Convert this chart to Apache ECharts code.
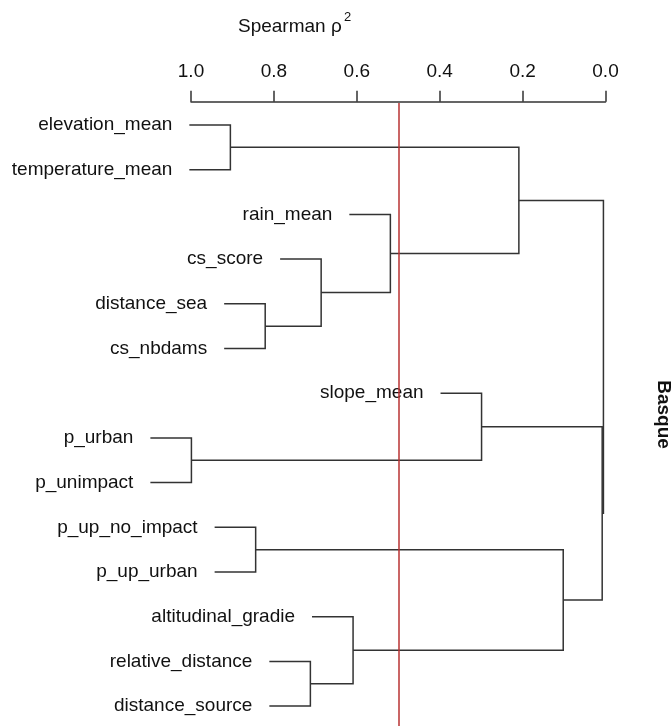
<!DOCTYPE html>
<html>
<head>
<meta charset="utf-8">
<script src="https://cdn.jsdelivr.net/npm/echarts@6/dist/echarts.min.js"></script>
<style>
html,body{margin:0;padding:0;background:#fff;}
#chart{width:671px;height:726px;}
</style>
</head>
<body>
<div id="chart"></div>
<script>
// Leaves in plotted order (top to bottom)
var leaves = ['elevation_mean','temperature_mean','rain_mean','cs_score','distance_sea','cs_nbdams',
  'slope_mean','p_urban','p_unimpact','p_up_no_impact','p_up_urban','altitudinal_gradie',
  'relative_distance','distance_source'];
// hclust-style merge matrix: negative = leaf (1-based), positive = earlier merge (1-based)
var mergeLeft  = [-8, -1, -10, -5, -13, -4, -12, -3, -7, 2, 3, 9, 10];
var mergeRight = [-9, -2, -11, -6, -14,  4,   5,  6,  1, 8, 7, 11, 12];
// Spearman rho^2 similarity at each merge
var mergeHeight = [0.999, 0.905, 0.844, 0.821, 0.712, 0.686, 0.609, 0.519, 0.299, 0.209, 0.102, 0.008, 0.005];
var hang = 0.099;
var cutValue = 0.5;
var tickValues = [0, 0.2, 0.4, 0.6, 0.8, 1.0];

var nodeY = [];
var polylines = [];
var leafStarts = [];
function childPos(c, h) {
  if (c < 0) {
    var i = -c - 1;
    leafStarts.push([h + hang, i, leaves[i]]);
    return {x: h + hang, y: i};
  }
  return {x: mergeHeight[c - 1], y: nodeY[c - 1]};
}
for (var k = 0; k < mergeHeight.length; k++) {
  var h = mergeHeight[k];
  var a = childPos(mergeLeft[k], h);
  var b = childPos(mergeRight[k], h);
  nodeY[k] = (a.y + b.y) / 2;
  polylines.push({coords: [[a.x, a.y], [h, a.y], [h, b.y], [b.x, b.y]]});
}

var yMin = -0.521, yMax = 13.445;
var chart = echarts.init(document.getElementById('chart'), null, {renderer: 'canvas'});
var FONT = '"Liberation Sans", Arial, sans-serif';
chart.setOption({
  animation: false,
  backgroundColor: '#ffffff',
  grid: {left: 191, right: 65.5, top: 101.7, bottom: 0, containLabel: false, outerBoundsMode: 'none'},
  xAxis: {
    type: 'value', min: 0, max: 1, interval: 0.2, inverse: true, position: 'top',
    axisLine: {show: true, onZero: false, lineStyle: {color: '#333', width: 1.5}},
    axisTick: {show: true, inside: false, length: 11, lineStyle: {color: '#333', width: 1.5}},
    axisLabel: {show: true, margin: 20, fontSize: 19, fontFamily: FONT, color: '#111',
      formatter: function (v) { return v.toFixed(1); }},
    splitLine: {show: false}
  },
  yAxis: {
    type: 'value', min: yMin, max: yMax, inverse: true, show: false,
    axisLine: {show: false}, splitLine: {show: false}
  },
  graphic: [
    {type: 'text', left: 238, top: 17, style: {text: 'Spearman ρ', fontSize: 19, fontFamily: FONT, fill: '#111'}},
    {type: 'text', left: 344, top: 11, style: {text: '2', fontSize: 13, fontFamily: FONT, fill: '#111'}},
    {type: 'text', x: 663, y: 414.5, rotation: -Math.PI / 2,
      style: {text: 'Basque', fontSize: 19, fontWeight: 'bold', fontFamily: FONT, fill: '#111',
        align: 'center', verticalAlign: 'middle'}}
  ],
  series: [
    {
      type: 'lines', coordinateSystem: 'cartesian2d', polyline: true, clip: false, silent: true,
      lineStyle: {color: '#333', width: 1.5, opacity: 1},
      data: polylines
    },
    {
      type: 'custom', coordinateSystem: 'cartesian2d', clip: false, silent: true,
      renderItem: function (params, api) {
        var p = api.coord([api.value(0), api.value(1)]);
        return {
          type: 'text', x: p[0] - 17, y: p[1],
          style: {text: leaves[api.value(1)], fontSize: 19, fontFamily: FONT, fill: '#111',
            align: 'right', verticalAlign: 'middle'}
        };
      },
      data: leafStarts
    },
    {
      type: 'lines', coordinateSystem: 'cartesian2d', polyline: false, clip: false, silent: true,
      lineStyle: {color: '#b83232', width: 1.5, opacity: 1},
      data: [{coords: [[cutValue, yMin + 0.03], [cutValue, yMax]]}]
    }
  ]
});
</script>
</body>
</html>
